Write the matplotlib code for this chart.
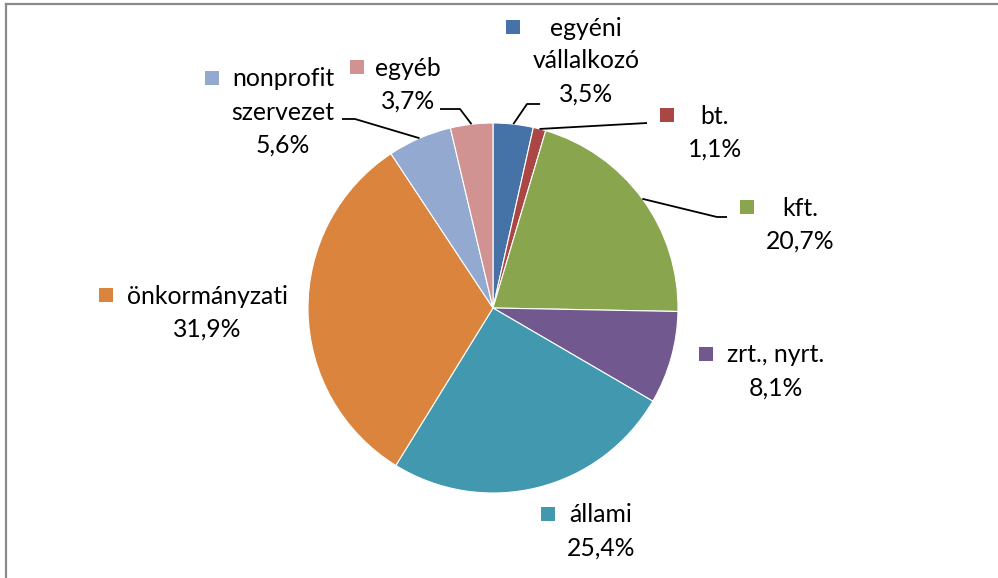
import numpy as np
import matplotlib
matplotlib.use("Agg")
import matplotlib.pyplot as plt
from matplotlib.patches import Rectangle
from matplotlib.lines import Line2D

plt.rcParams['font.family'] = ['Lato', 'DejaVu Sans']

# data
labels = ["egyéni\nvállalkozó", "bt.", "kft.", "zrt., nyrt.", "állami",
          "önkormányzati", "nonprofit\nszervezet", "egyéb"]
shares = [3.5, 1.1, 20.7, 8.1, 25.4, 31.9, 5.6, 3.7]
colors = ["#4572A7", "#AA4643", "#89A54E", "#71588F", "#4198AF",
          "#DB843D", "#93A9CF", "#D19392"]

W, H = 998, 578
CX, CY, R = 493, 308, 185          # pie centre/radius in pixels (y down)
LINE = 33                          # label line spacing in px

# label layout: text centre x, first-line y, marker x, leader path (elbow points)
layout = [
    (586, 27, 513, [(527, 104), (540, 104)]),
    (715, 115, 667, [(647, 123)]),
    (800, 207, 747, [(717, 217), (727, 217)]),
    (776, 354, 706, None),
    (601, 514, 548, None),
    (207, 295, 106, None),
    (283, 78, 212, [(355, 119), (342, 119)]),
    (408, 67, 357, [(460, 109), (440, 109)]),
]


def Y(py):
    return H - py


fig = plt.figure(figsize=(W / 100, H / 100), dpi=100)
ax = fig.add_axes([0, 0, 1, 1])

wedges, _ = ax.pie(shares, colors=colors, startangle=90, counterclock=False,
                   center=(CX, Y(CY)), radius=R,
                   wedgeprops=dict(edgecolor="white", linewidth=0.8))
ax.set_aspect("auto")
ax.set_xlim(0, W)
ax.set_ylim(0, H)
ax.axis("off")

for w, lab, val, c, (tx, ty, mx, path) in zip(wedges, labels, shares, colors, layout):
    lines = lab.split("\n") + [f"{val:.1f}".replace(".", ",") + "%"]
    for i, s in enumerate(lines):
        ax.text(tx, Y(ty + i * LINE + 8.5), s, ha="center", va="baseline",
                fontsize=17.8, color="black")
    ax.add_patch(Rectangle((mx - 7, Y(ty) - 7), 14, 14, facecolor=c,
                           edgecolor="none"))
    if path:
        ang = np.deg2rad((w.theta1 + w.theta2) / 2)
        x0 = CX + R * np.cos(ang)
        y0 = Y(CY) + R * np.sin(ang)
        xs = [x0] + [p[0] for p in path]
        ys = [y0] + [Y(p[1]) for p in path]
        ax.plot(xs, ys, color="black", lw=1.3, solid_capstyle="butt")

# chart area border (top and left visible)
fig.add_artist(Line2D([5.5 / W, 1], [1 - 3.5 / H, 1 - 3.5 / H],
                      transform=fig.transFigure, color="#8a8a8a", lw=1.6))
fig.add_artist(Line2D([5.5 / W, 5.5 / W], [0, 1 - 3.5 / H],
                      transform=fig.transFigure, color="#8a8a8a", lw=1.6))

fig.savefig("out.png", dpi=100)
